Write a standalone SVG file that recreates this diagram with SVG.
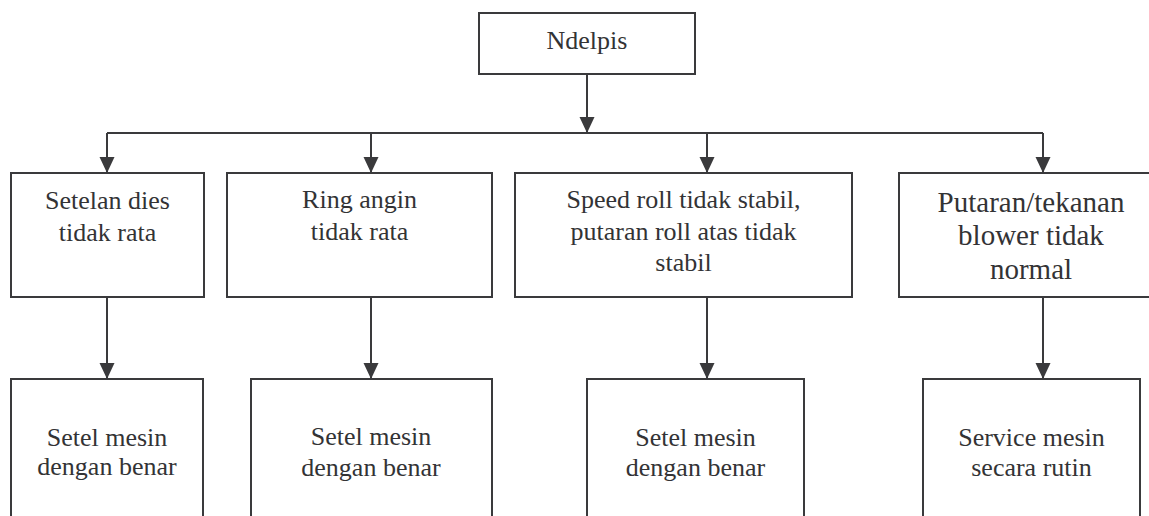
<svg xmlns="http://www.w3.org/2000/svg" width="1149" height="516" viewBox="0 0 1149 516">
<style>
.box{fill:#fff;stroke:#3a3a3c;stroke-width:2}
.t{font-family:"Times New Roman",Times,Tinos,"Nimbus Roman","Nimbus Roman No9 L",FreeSerif,"Liberation Serif","DejaVu Serif","Noto Serif",serif;font-size:26px;fill:#333335;text-anchor:middle}
.t29{font-size:29px}
.c{fill:none;stroke:#3a3a3c;stroke-width:2}
</style>
<defs>
<marker id="ah" markerUnits="userSpaceOnUse" markerWidth="16" markerHeight="16" refX="16" refY="7.5" orient="auto" viewBox="0 0 16 15">
<path d="M0,0 L16,7.5 L0,15 z" fill="#3a3a3c"/>
</marker>
</defs>
<rect width="1149" height="516" fill="#fff"/>
<g id="connectors">
<path class="c" d="M587,74 V133" marker-end="url(#ah)"/>
<path class="c" d="M107,133 H1043"/>
<path class="c" d="M107,133 V173" marker-end="url(#ah)"/>
<path class="c" d="M371,133 V173" marker-end="url(#ah)"/>
<path class="c" d="M707,133 V173" marker-end="url(#ah)"/>
<path class="c" d="M1043,133 V173" marker-end="url(#ah)"/>
<path class="c" d="M107,297 V379" marker-end="url(#ah)"/>
<path class="c" d="M371,297 V379" marker-end="url(#ah)"/>
<path class="c" d="M707,297 V379" marker-end="url(#ah)"/>
<path class="c" d="M1043,297 V379" marker-end="url(#ah)"/>
</g>
<g id="root">
<rect class="box" x="479" y="13" width="216" height="61"/>
<text class="t" x="587" y="49">Ndelpis</text>
</g>
<g id="cause1">
<rect class="box" x="11" y="173" width="193" height="124"/>
<text class="t" x="107.5" y="209">Setelan dies</text>
<text class="t" x="107.5" y="241">tidak rata</text>
</g>
<g id="cause2">
<rect class="box" x="227" y="173" width="265" height="124"/>
<text class="t" x="359.5" y="208">Ring angin</text>
<text class="t" x="359.5" y="240">tidak rata</text>
</g>
<g id="cause3">
<rect class="box" x="515" y="173" width="337" height="124"/>
<text class="t" x="683.5" y="208">Speed roll tidak stabil,</text>
<text class="t" x="683.5" y="240">putaran roll atas tidak</text>
<text class="t" x="683.5" y="271">stabil</text>
</g>
<g id="cause4">
<rect class="box" x="899" y="173" width="265" height="124"/>
<text class="t t29" x="1031" y="212">Putaran/tekanan</text>
<text class="t t29" x="1031" y="245">blower tidak</text>
<text class="t t29" x="1031" y="279">normal</text>
</g>
<g id="fix1">
<rect class="box" x="11" y="379" width="192" height="160"/>
<text class="t" x="107" y="446">Setel mesin</text>
<text class="t" x="107" y="475">dengan benar</text>
</g>
<g id="fix2">
<rect class="box" x="251" y="379" width="241" height="160"/>
<text class="t" x="371" y="445">Setel mesin</text>
<text class="t" x="371" y="476">dengan benar</text>
</g>
<g id="fix3">
<rect class="box" x="587" y="379" width="217" height="160"/>
<text class="t" x="695.5" y="446">Setel mesin</text>
<text class="t" x="695.5" y="476">dengan benar</text>
</g>
<g id="fix4">
<rect class="box" x="923" y="379" width="217" height="160"/>
<text class="t" x="1031.5" y="446">Service mesin</text>
<text class="t" x="1031.5" y="476">secara rutin</text>
</g>
</svg>
